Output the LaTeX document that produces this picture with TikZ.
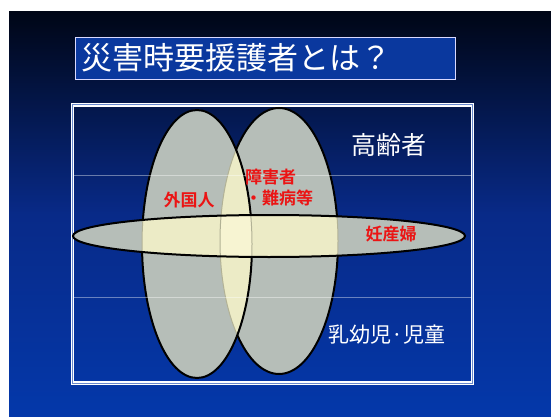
\documentclass[tikz,border=0pt]{standalone}
\usepackage{fontspec}
\setmainfont{Noto Sans CJK JP}
\newfontfamily\jpb{Noto Sans CJK JP}[BoldFont=* Bold]
\definecolor{bgtop}{RGB}{0,6,22}
\definecolor{bgmid}{RGB}{8,42,136}
\definecolor{bgbot}{RGB}{4,56,170}
\definecolor{titlefill}{RGB}{10,56,158}
\definecolor{ellgray}{RGB}{182,190,184}
\definecolor{ovyellow}{RGB}{236,235,198}
\definecolor{triyellow}{RGB}{247,244,210}
\definecolor{faintline}{RGB}{178,178,150}
\definecolor{redtxt}{RGB}{235,20,20}
\tikzset{
  outl/.style={draw=black, line width=2pt},
  faint/.style={draw=faintline, line width=1pt},
  whitetxt/.style={text=white, inner sep=0pt},
  redlabel/.style={text=redtxt, inner sep=0pt, font=\jpb\bfseries\fontsize{17}{19}\selectfont},
  guide/.style={draw=white, opacity=0.4, line width=0.8pt}
}
\def\ellA{(197,244) ellipse [x radius=55, y radius=134]}
\def\ellB{(279,241) ellipse [x radius=59, y radius=133]}
\def\ellC{(269,236) ellipse [x radius=196, y radius=21]}
\def\bigR{(0,0) rectangle (551,417)}
\begin{document}
\begin{tikzpicture}[x=1pt,y=-1pt]
\useasboundingbox (0,0) rectangle (551,417);
% background
\fill[white] (0,0) rectangle (551,417);
\shade[top color=bgtop, bottom color=bgbot, middle color=bgmid] (9,12) rectangle (551,417);
% title
\node[draw=white!85!blue, line width=0.8pt, fill=titlefill, minimum width=380pt, minimum height=42pt, inner sep=0pt] (titlebox) at (265,58) {};
\node[whitetxt, anchor=west, font=\fontsize{31}{33}\selectfont] (title) at (81,58) {災害時要援護者とは？};
% frame
\node[draw=white, double=white!40!bgbot, double distance=1pt, line width=1.1pt, minimum width=400pt, minimum height=278pt, inner sep=0pt] (frame) at (272.5,244) {};
% gray fills
\fill[ellgray] \ellA;
\fill[ellgray] \ellB;
\fill[ellgray] \ellC;
% pairwise overlaps
\begin{scope}\clip \ellA; \fill[ovyellow] \ellB; \fill[ovyellow] \ellC;\end{scope}
\begin{scope}\clip \ellB; \fill[ovyellow] \ellC;\end{scope}
\begin{scope}\clip \ellA; \clip \ellB; \fill[triyellow] \ellC;\end{scope}
% faint outlines
\path[faint] \ellA;
\path[faint] \ellB;
% black outline of A outside C
\begin{scope}[even odd rule]
  \clip \bigR \ellC;
  \path[outl] \ellA;
\end{scope}
% black outline of B outside A and C
\begin{scope}[even odd rule]
  \clip \bigR \ellC;
  \begin{scope}[even odd rule]
    \clip \bigR \ellA;
    \path[outl] \ellB;
  \end{scope}
\end{scope}
% C outline
\path[outl] \ellC;
% guide lines
\coordinate (g1l) at (74,175); \coordinate (g1r) at (471,175);
\coordinate (g2l) at (74,297); \coordinate (g2r) at (471,297);
\draw[guide] (g1l) -- (g1r);
\draw[guide] (g2l) -- (g2r);
% labels
\node[whitetxt, font=\fontsize{25}{27}\selectfont] (elder) at (389,145) {高齢者};
\node[whitetxt, font=\fontsize{21}{23}\selectfont] (child) at (387,335) {乳幼児·児童};
\node[redlabel] (foreign) at (189,200) {外国人};
\node[redlabel, anchor=west] (disab) at (245,177) {障害者};
\node[redlabel, anchor=west] (ill) at (245,198) {・難病等};
\node[redlabel] (preg) at (391,234) {妊産婦};
\end{tikzpicture}
\end{document}
